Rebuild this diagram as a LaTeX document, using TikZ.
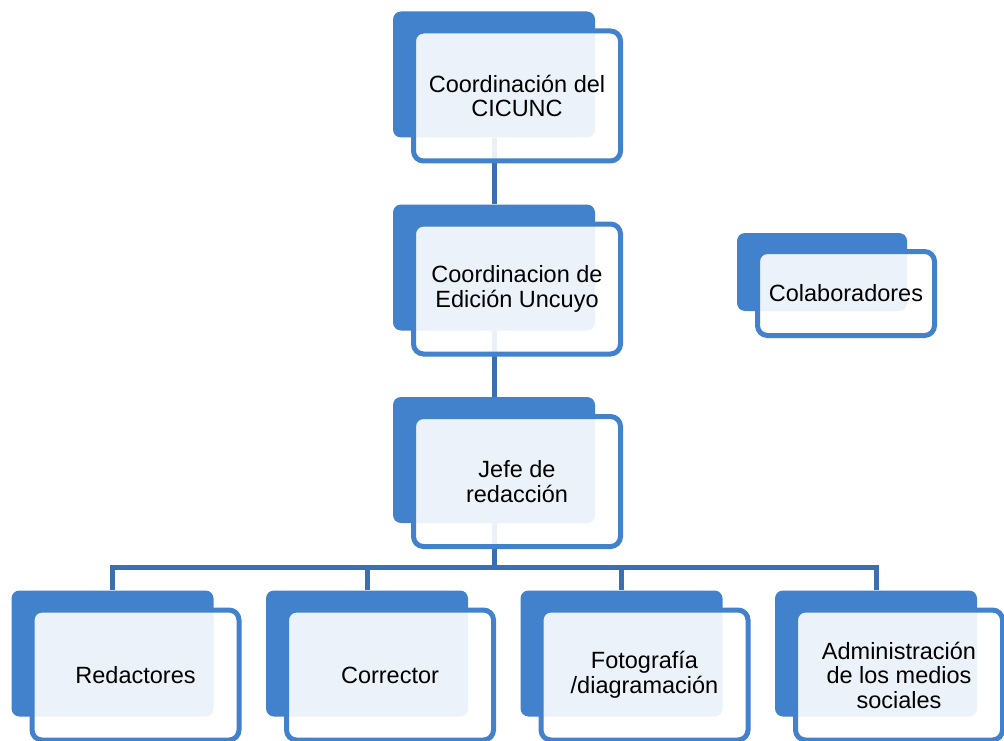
\documentclass[tikz,border=0pt]{standalone}
\usepackage{fontspec}
\setmainfont{Liberation Sans}
\usetikzlibrary{backgrounds}
\definecolor{boxblue}{RGB}{66,129,203}
\definecolor{linkblue}{RGB}{58,112,178}
\begin{document}
\begin{tikzpicture}[x=1pt,y=-1pt,
	back/.style={fill=boxblue,rounded corners=8pt,minimum width=202pt,minimum height=126pt,inner sep=0pt},
	front/.style={draw=boxblue,line width=5pt,fill=white,fill opacity=0.9,text opacity=1,rounded corners=10pt,
		minimum width=207pt,minimum height=130pt,inner sep=0pt,align=center,font=\fontsize{23.5}{24.5}\selectfont},
	link/.style={draw=linkblue,line width=5pt}]
			\useasboundingbox (0,0) rectangle (1004,741);
			\node[back] (cicuncB) at (494,74.5) {};
			\node[front] (cicunc) at ([shift={(23,21.5)}]cicuncB) {Coordinación del\\CICUNC};
			\node[back] (edicionB) at (494,267.5) {};
			\node[front] (edicion) at ([shift={(23,21.5)}]edicionB) {Coordinacion de\\Edición Uncuyo};
			\node[back] (jefeB) at (494,460) {};
			\node[front] (jefe) at ([shift={(23,21.5)}]jefeB) {Jefe de\\redacción};
			\node[back,minimum width=170pt,minimum height=78pt] (colabB) at (822,272) {};
			\node[front,minimum width=177pt,minimum height=84pt] (colab) at ([shift={(24,21.5)}]colabB) {Colaboradores};
			\node[back] (redB) at (112.5,653.5) {};
			\node[front] (red) at ([shift={(23,21.5)}]redB) {Redactores};
			\node[back] (corrB) at (367,653.5) {};
			\node[front] (corr) at ([shift={(23,21.5)}]corrB) {Corrector};
			\node[back] (fotoB) at (621.5,653.5) {};
			\node[front] (foto) at ([shift={(23,21.5)}]fotoB) {Fotografía\\/diagramación};
			\node[back] (adminB) at (876,653.5) {};
			\node[front] (admin) at ([shift={(23,21.5)}]adminB) {Administración\\de los medios\\sociales};
			\coordinate (bus) at (494,567);
			\begin{scope}[on background layer]
			\draw[link] (cicuncB.south)--(edicionB.north);
			\draw[link] (edicionB.south)--(jefeB.north);
			\draw[link] (jefeB.south)--(bus);
			\foreach \n in {redB,corrB,fotoB,adminB}
				\draw[link] (bus)-|(\n.north);
			\end{scope}
			\end{tikzpicture}
\end{document}
